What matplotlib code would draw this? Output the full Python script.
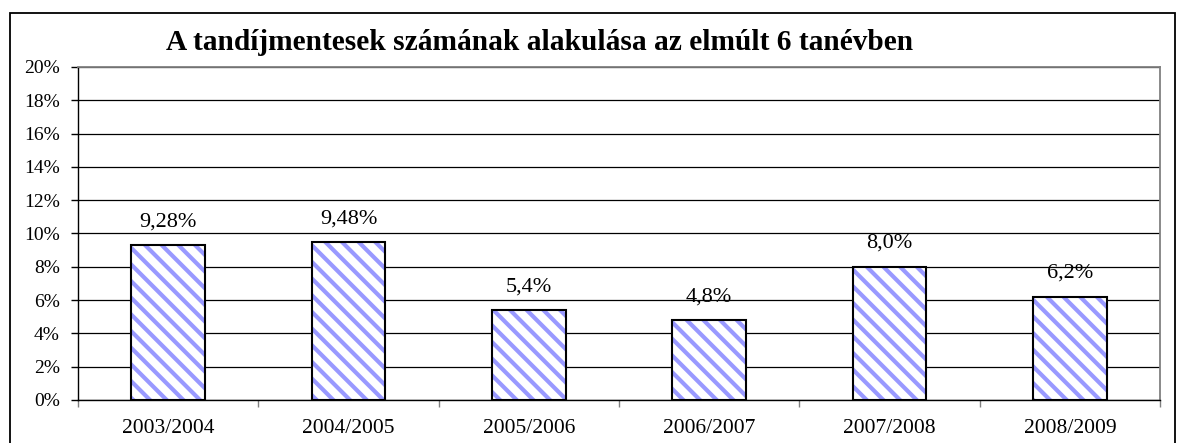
import matplotlib
matplotlib.use('Agg')
import matplotlib.pyplot as plt
from matplotlib.patches import Rectangle

plt.rcParams['font.family'] = ['Liberation Serif', 'DejaVu Serif']
plt.rcParams['hatch.linewidth'] = 3.0
plt.rcParams['hatch.color'] = '#9999ff'

years = ['2003/2004', '2004/2005', '2005/2006', '2006/2007', '2007/2008', '2008/2009']
values = [9.28, 9.48, 5.4, 4.8, 8.0, 6.2]
labels = ['9,28%', '9,48%', '5,4%', '4,8%', '8,0%', '6,2%']
title = 'A tandíjmentesek számának alakulása az elmúlt 6 tanévben'

fig = plt.figure(figsize=(11.84, 4.43), dpi=100)
ax = fig.add_axes([78/1184, 1 - 400/443, (1160-78)/1184, (400-67)/443])

# outer chart border
fig.patches.append(Rectangle((10/1184, -0.1), (1175-10)/1184, 1 - 13/443 + 0.1,
                             transform=fig.transFigure, fill=False,
                             edgecolor='black', linewidth=1.3, clip_on=False))

x = list(range(len(years)))
ax.bar(x, values, width=0.41, color='white', edgecolor='#9999ff', hatch='\\' * 2, linewidth=0, zorder=2)
ax.bar(x, values, width=0.41, fill=False, edgecolor='black', linewidth=1.5, zorder=3)

for xi, v, lab in zip(x, values, labels):
    ax.annotate(lab, (xi, v), xytext=(0, 10), textcoords='offset points',
                ha='center', va='bottom', fontsize=16)

ax.set_xlim(-0.5, len(years) - 0.5)
ax.set_ylim(0, 20)
ax.set_yticks(range(0, 21, 2))
ax.set_yticklabels([f'{t}%' for t in range(0, 21, 2)], fontsize=14)
ax.yaxis.grid(True, color='black', linewidth=0.9, zorder=0)
ax.set_axisbelow(True)
ax.tick_params(axis='y', direction='out', length=5, width=1, pad=8)

ax.set_xticks([i + 0.5 for i in range(-1, len(years))], minor=False)
ax.set_xticklabels([])
ax.tick_params(axis='x', direction='out', length=5, width=1, colors='#808080')
ax.set_xticks(x, minor=True)
ax.set_xticklabels(years, minor=True, fontsize=15.5)
ax.tick_params(axis='x', which='minor', length=0, pad=14, labelcolor='black')

for s in ['top', 'right']:
    ax.spines[s].set_color('#808080')
    ax.spines[s].set_linewidth(1.3)
ax.spines['left'].set_color('black')
ax.spines['bottom'].set_color('black')
ax.spines['left'].set_linewidth(1)
ax.spines['bottom'].set_linewidth(1)

fig.text(0.456, 1 - 42/443, title, ha='center', va='center', fontsize=21.2, fontweight='bold')

fig.savefig('out.png', dpi=100)
